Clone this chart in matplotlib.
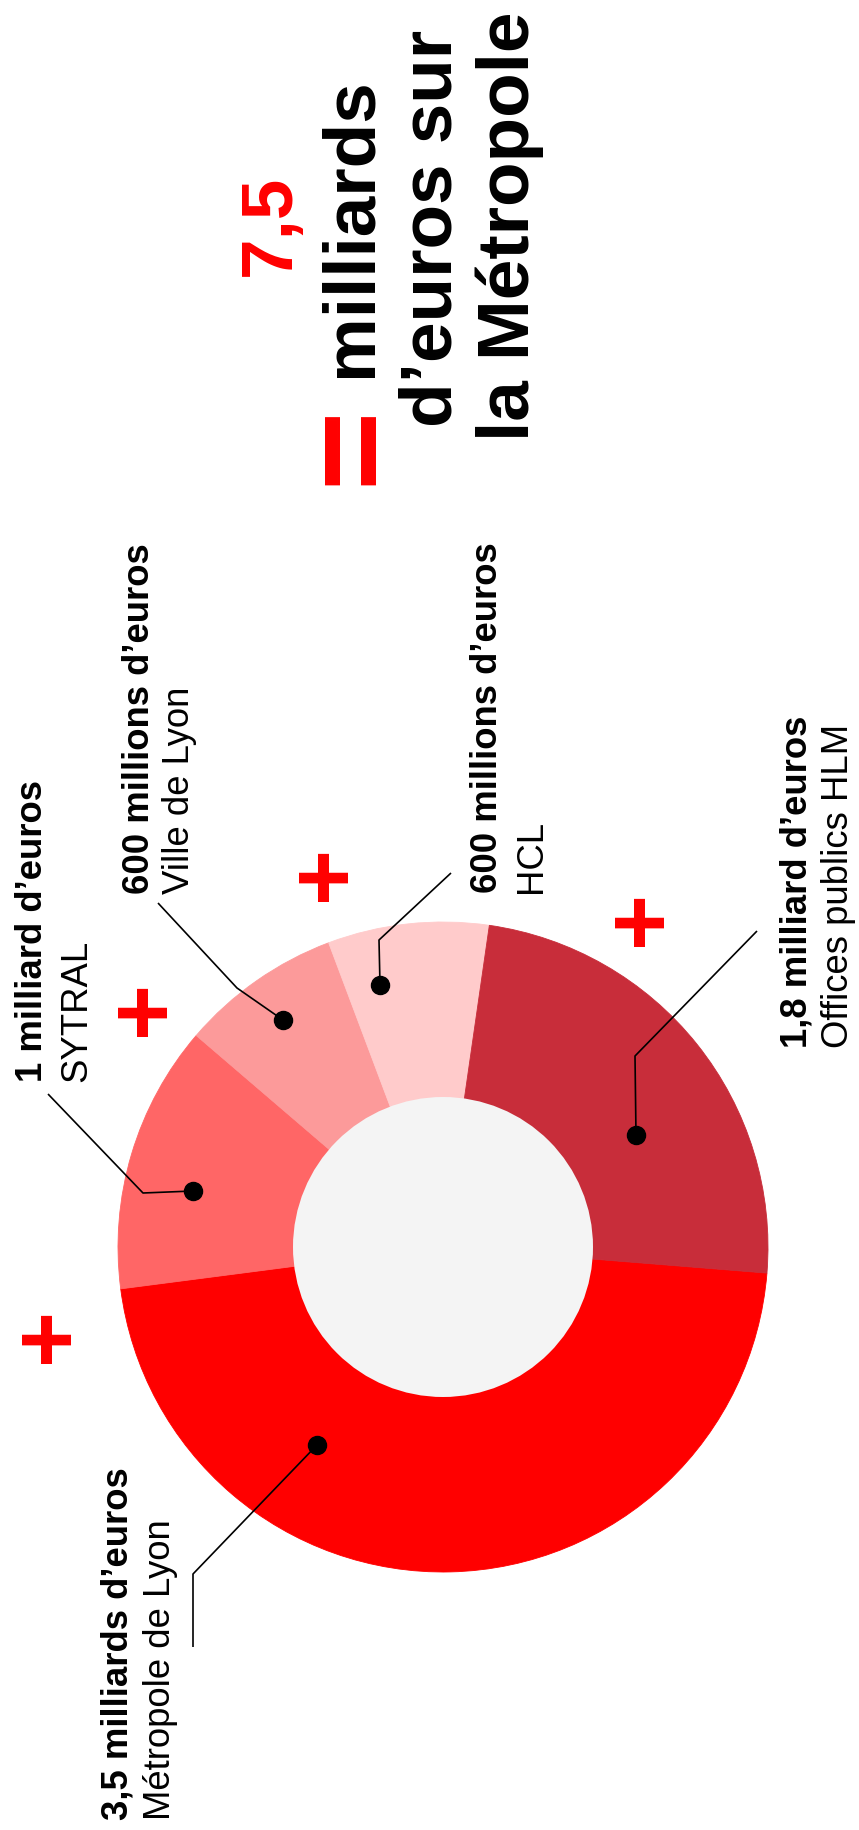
import matplotlib
matplotlib.use("Agg")
import matplotlib.pyplot as plt
from matplotlib.patches import Circle

# ── Data ───────────────────────────────────────────────────────────────
entities = ["Métropole de Lyon", "SYTRAL", "Ville de Lyon", "HCL", "Offices publics HLM"]
amounts = ["3,5 milliards d’euros", "1 milliard d’euros", "600 millions d’euros",
           "600 millions d’euros", "1,8 milliard d’euros"]
values = [3.5, 1.0, 0.6, 0.6, 1.8]  # milliards d'euros
colors = ["#FF0000", "#FF6666", "#FC9A9A", "#FFCBCB", "#C82D3A"]

total = sum(values)
total_label = f"{total:.1f}".replace(".", ",")

# ── Layout (pixel coords, y downwards) ─────────────────────────────────
W, H = 859, 1831
CENTER = (443, 1248)
R_OUT, R_IN = 325, 150
FONT = "Liberation Sans"
RED = "#FF0000"

# dot -> knee -> end of each leader line
leaders = [
    [(317, 1446), (193, 1575), (193, 1648)],
    [(193, 1192), (143, 1194), (48, 1095)],
    [(283, 1021), (237, 989), (158, 904)],
    [(380, 986), (379, 941), (451, 874)],
    [(636, 1136), (635, 1057), (757, 932)],
]
# (bold baseline x, regular baseline x, start y)
label_pos = [
    (127, 170, 1820),
    (42, 86, 1082),
    (149, 189, 894),
    (497, 541, 893),
    (807, 848, 1048),
]
plus_pos = [(51, 1335), (147, 1008), (328, 873), (644, 918)]

fig = plt.figure(figsize=(W / 100, H / 100), dpi=100)
ax = fig.add_axes([0, 0, 1, 1])

# y axis points down, so counterclock in data = clockwise on screen
ax.pie(values, colors=colors, center=CENTER, radius=R_OUT,
       startangle=4.6, counterclock=True,
       wedgeprops=dict(linewidth=0.6, edgecolor="none", antialiased=True))
for w, c in zip(ax.patches, colors):
    w.set_edgecolor(c)
ax.add_patch(Circle(CENTER, R_IN, facecolor="#F4F4F4", edgecolor="none", zorder=3))

ax.set_xlim(0, W)
ax.set_ylim(H, 0)
ax.set_aspect("equal")
ax.axis("off")

for pts in leaders:
    xs = [p[0] for p in pts]
    ys = [p[1] for p in pts]
    ax.plot(xs, ys, color="black", lw=1.2, zorder=4, solid_capstyle="butt")
    ax.plot(xs[0], ys[0], "o", color="black", ms=13, zorder=5)

for amt, name, (bx, rx, y0) in zip(amounts, entities, label_pos):
    ax.text(bx, y0, amt, rotation=90, rotation_mode="anchor", ha="left",
            va="baseline", fontsize=26.3, fontweight="bold", family=FONT)
    ax.text(rx, y0, name, rotation=90, rotation_mode="anchor", ha="left",
            va="baseline", fontsize=26.3, family=FONT)

for px, py in plus_pos:
    ax.text(px, py, "+", ha="center", va="center", rotation=90,
            rotation_mode="anchor", fontsize=69, fontweight="bold",
            color=RED, family=FONT)

# Title block
title_kw = dict(rotation=90, rotation_mode="anchor", ha="left", va="baseline",
                fontsize=52.5, fontweight="bold", family=FONT)
ax.text(290, 276, total_label, color=RED, **title_kw)
ax.text(371, 377, "milliards", color="black", **title_kw)
ax.text(452, 427, "d’euros sur", color="black", **title_kw)
ax.text(529, 441, "la Métropole", color="black", **title_kw)
ax.text(355, 445, "=", rotation=90, rotation_mode="anchor", ha="center",
        va="center", fontsize=98, fontweight="bold", color=RED, family=FONT)

fig.savefig("out.png", dpi=100, facecolor="white")
